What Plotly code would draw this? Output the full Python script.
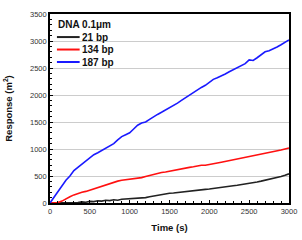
import plotly.graph_objects as go

time_s = [0, 50, 100, 150, 200, 250, 300, 350, 400, 450, 500, 550, 600, 650, 700, 750, 800, 850, 900, 950,
          1000, 1050, 1100, 1150, 1200, 1250, 1300, 1350, 1400, 1450, 1500, 1550, 1600, 1650, 1700, 1750,
          1800, 1850, 1900, 1950, 2000, 2050, 2100, 2150, 2200, 2250, 2300, 2350, 2400, 2450, 2500, 2550,
          2600, 2650, 2700, 2750, 2800, 2850, 2900, 2950, 3000]

bp21 = [0, 0, 5, 0, 8, 5, 12, 8, 20, 15, 30, 25, 40, 35, 50, 45, 60, 52, 70, 75,
        80, 78, 88, 95, 100, 115, 130, 140, 160, 170, 180, 185, 195, 200, 210, 220,
        230, 238, 245, 252, 260, 268, 280, 290, 300, 308, 320, 330, 340, 352, 365, 378,
        390, 405, 420, 435, 450, 470, 490, 512, 540]

bp134 = [0, 5, 10, 35, 80, 115, 150, 180, 200, 215, 240, 268, 290, 305, 330, 360, 390, 405, 420, 428,
         440, 445, 450, 470, 490, 510, 530, 548, 565, 575, 590, 605, 620, 640, 650, 660,
         670, 690, 700, 700, 710, 728, 740, 755, 770, 785, 800, 808, 820, 838, 850, 862,
         880, 895, 910, 932, 950, 962, 980, 1000, 1020]

bp187 = [0, 110, 200, 310, 420, 500, 600, 660, 720, 790, 850, 895, 930, 970, 1010, 1060, 1100, 1170,
         1230, 1265, 1300, 1370, 1440, 1480, 1500, 1550, 1600, 1640, 1680, 1720, 1760, 1800, 1850,
         1900, 1950, 1990, 2040, 2090, 2140, 2180, 2240, 2290, 2320, 2350, 2390, 2430, 2470, 2500,
         2540, 2580, 2650, 2640, 2690, 2750, 2800, 2820, 2850, 2890, 2930, 2970, 3020]

series_names = ["21 bp", "134 bp", "187 bp"]
series_values = [bp21, bp134, bp187]
series_colors = ["#222222", "#ff1010", "#1a1aff"]
legend_title = "DNA 0.1μm"

FONT = "Arial, Liberation Sans, sans-serif"

fig = go.Figure()
for name, vals, col in zip(series_names, series_values, series_colors):
    fig.add_trace(go.Scatter(x=time_s, y=vals, mode="lines", name=name,
                             line=dict(color=col, width=1.6), showlegend=False))

# compact legend drawn in paper coordinates (plot area is 239 x 189 px)
annotations = [dict(text="<b>" + legend_title + "</b>", xref="paper", yref="paper",
                    x=0.025, y=0.942, xanchor="left", yanchor="middle", showarrow=False,
                    font=dict(size=10, color="#111111", family=FONT))]
shapes = []
row_y = [0.878, 0.812, 0.746]
for name, col, yy in zip(series_names, series_colors, row_y):
    shapes.append(dict(type="line", xref="paper", yref="paper", x0=0.029, x1=0.124, y0=yy, y1=yy,
                       line=dict(color=col, width=2)))
    annotations.append(dict(text="<b>" + name + "</b>", xref="paper", yref="paper",
                            x=0.124, y=yy, xanchor="left", yanchor="middle", showarrow=False,
                            font=dict(size=10, color="#111111", family=FONT)))

fig.update_layout(
    width=302, height=240,
    margin=dict(l=50, r=13, t=14, b=37),
    paper_bgcolor="white", plot_bgcolor="white",
    font=dict(family=FONT, size=7.5, color="#333333"),
    showlegend=False,
    annotations=annotations, shapes=shapes,
)
fig.update_xaxes(range=[0, 3000], dtick=500, ticks="inside", ticklen=3, tickwidth=1.2,
                 tickcolor="black", showline=True, linecolor="black", linewidth=1.6, mirror=True,
                 showgrid=False, zeroline=False, automargin=False,
                 minor=dict(dtick=100, ticks="inside", ticklen=2, tickcolor="black", tickwidth=1),
                 title=dict(text="<b>Time (s)</b>", font=dict(size=9.5, color="#111111"), standoff=10))
fig.update_yaxes(range=[0, 3500], dtick=500, ticks="inside", ticklen=3, tickwidth=1.2,
                 tickcolor="black", showline=True, linecolor="black", linewidth=1.6, mirror=True,
                 showgrid=True, gridcolor="#cccccc", gridwidth=1, zeroline=False, automargin=False,
                 minor=dict(dtick=100, ticks="inside", ticklen=2, tickcolor="black", tickwidth=1),
                 title=dict(text="<b>Response (m<sup>2</sup>)</b>", font=dict(size=9.5, color="#111111"), standoff=16))

fig.write_html("out.html")
